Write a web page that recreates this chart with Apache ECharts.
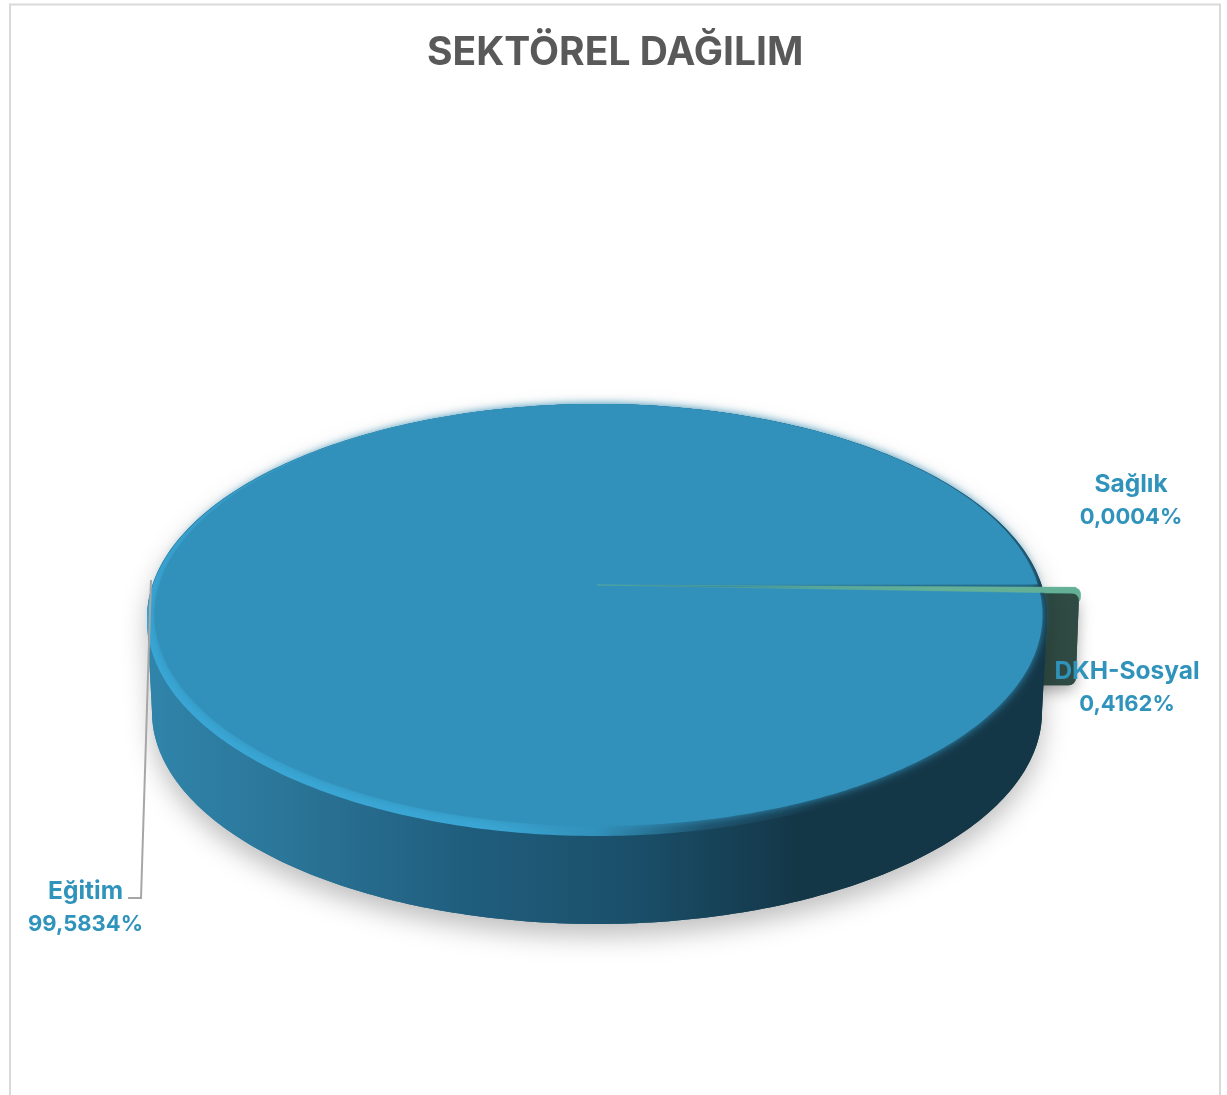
<!DOCTYPE html>
<html>
<head>
<meta charset="utf-8">
<style>html,body{margin:0;padding:0;background:#fff}#c{width:1227px;height:1095px}</style>
<script src="https://cdn.jsdelivr.net/npm/echarts@6/dist/echarts.min.js"></script>
</head>
<body>
<div id="c"></div>
<script>
const titleText = 'SEKTÖREL DAĞILIM';
const categories = ['Eğitim', 'DKH-Sosyal', 'Sağlık'];
const shares = [99.5834, 0.4162, 0.0004];

// layout of the drawn disc
const TOP = {cx: 597, cy: 618, rx: 450, ry: 214};
const RIM = {cx: 597, cy: 620, rx: 450, ry: 216};
const FACE = {cx: 598.5, cy: 615, rx: 444, ry: 211};
const BOTTOM = {cx: 597, cy: 712, rx: 445, ry: 212};
const APEX = [597, 585];
const FIRST_ANGLE = -6.8;
const EXPLODE = 1.085;
const SLICE_REACH = 1.075;
const LABEL_POS = [[85.5, 891.5], [1127, 671.5], [1131, 484.5]];
const LINE_GAP = 33;
const LEADER = [[151, 580], [141, 898], [128, 898]];

const total = shares.reduce((a, b) => a + b, 0);
function at(e, deg) {
  const t = deg * Math.PI / 180;
  return [e.cx + e.rx * Math.cos(t), e.cy + e.ry * Math.sin(t)];
}
function arc(e, a0, a1) {
  const n = Math.max(2, Math.ceil(Math.abs(a1 - a0)));
  const pts = [];
  for (let i = 0; i <= n; i++) pts.push(at(e, a0 + (a1 - a0) * i / n));
  return pts;
}
function sliceRange(idx, api) {
  let start = FIRST_ANGLE;
  for (let i = 0; i < idx; i++) start += shares[i] / total * 360;
  return [start, start + api.value(0) / total * 360];
}
function extend(p, k) {
  return [APEX[0] + (p[0] - APEX[0]) * k, APEX[1] + (p[1] - APEX[1]) * k];
}
const hGrad = stops => ({type: 'linear', x: 0, y: 0, x2: 1, y2: 0,
  colorStops: stops.map(s => ({offset: s[0], color: s[1]}))});

// exploded slice wall, behind the main body
function renderBehind(params, api) {
  if (params.dataIndex !== 1) return {type: 'group', children: []};
  const [a0, a1] = sliceRange(1, api);
  const p0 = extend(at(TOP, a0), EXPLODE);
  const p1 = extend(at(TOP, a1), EXPLODE);
  const left = p1[0] - 60;
  const cap = [[left, p0[1] + 7], [p1[0] - 8, p0[1] + 7], [p1[0] - 8, p0[1] + 10], [left, p0[1] + 10]];
  const tab = [
    [left, p1[1] + 7],
    [p1[0] - 10, p1[1] + 7],
    [p1[0] - 13, p1[1] + 85],
    [left, p1[1] + 85]
  ];
  return {type: 'group', children: [
    {type: 'polygon', shape: {points: tab},
      style: {fill: '#2f4b43', stroke: '#2f4b43', lineWidth: 14, lineJoin: 'round',
        shadowBlur: 16, shadowColor: 'rgba(0,0,0,0.25)', shadowOffsetY: 6}},
    {type: 'polygon', shape: {points: cap},
      style: {fill: '#63b096', stroke: '#63b096', lineWidth: 14, lineJoin: 'round'}},
    {type: 'polygon', shape: {points: tab},
      style: {fill: '#2f4b43', stroke: '#2f4b43', lineWidth: 14, lineJoin: 'round'}}
  ]};
}

function renderBody(params, api) {
  if (params.dataIndex !== 0) return {type: 'group', children: []};
  const [a0, a1] = sliceRange(0, api);
  const wall = arc(BOTTOM, 0, 180).concat(arc(TOP, 180, 360));
  const facePts = [APEX].concat(arc(FACE, a0, a1));
  const wallFill = hGrad([[0, '#3084aa'], [0.15, '#2b7699'], [0.35, '#205e7e'],
    [0.55, '#1a4e68'], [0.72, '#143748'], [1, '#143748']]);
  return {type: 'group', children: [
    {type: 'polygon', shape: {points: wall},
      style: {fill: wallFill, shadowBlur: 26, shadowOffsetY: 12, shadowColor: 'rgba(0,0,0,0.25)'}},
    {type: 'polygon', shape: {points: wall}, style: {fill: wallFill}},
    {type: 'polygon', shape: {points: arc(RIM, 0, 360)},
      style: {fill: hGrad([[0, '#39a6d5'], [0.38, '#3aa6d4'], [0.5, '#3191ba'],
        [0.62, '#1d536e'], [0.75, '#143748'], [1, '#143748']])}},
    {type: 'polygon', shape: {points: facePts},
      style: {fill: '#3191ba', shadowBlur: 8, shadowColor: '#3191ba'}}
  ]};
}

function renderTopSlices(params, api) {
  if (params.dataIndex !== 1) return {type: 'group', children: []};
  const [a0, a1] = sliceRange(1, api);
  const p0 = extend(at(TOP, a0), SLICE_REACH);
  const p1 = extend(at(TOP, a1), SLICE_REACH);
  return {type: 'polygon', shape: {points: [APEX, p0, p1]},
    style: {fill: hGrad([[0, '#2a7ea3'], [0.1, '#1f6f93'], [0.2, '#2b7f9f'], [0.45, '#55a49a'], [0.7, '#63b096'], [1, '#63b096']]),
      stroke: 'rgba(99,176,150,0.6)', lineWidth: 0.8, lineJoin: 'round'}};
}

function renderLabels(params, api) {
  const i = params.dataIndex;
  const pct = api.value(0).toFixed(4).replace('.', ',') + '%';
  const children = [
    {type: 'text', x: LABEL_POS[i][0], y: LABEL_POS[i][1],
      style: {text: categories[i], fill: '#3093bb', align: 'center', verticalAlign: 'middle',
        font: '700 24.5px "Inter", "Noto Sans", sans-serif'}},
    {type: 'text', x: LABEL_POS[i][0], y: LABEL_POS[i][1] + LINE_GAP,
      style: {text: pct, fill: '#3093bb', align: 'center', verticalAlign: 'middle',
        font: '700 22px "Inter", "Noto Sans", sans-serif'}}
  ];
  if (i === 0) {
    children.unshift({type: 'polyline', shape: {points: LEADER},
      style: {stroke: '#a6a6a6', lineWidth: 2, fill: 'none'}});
  }
  return {type: 'group', children};
}

const seriesData = categories.map((name, i) => ({name, value: [shares[i]]}));
const layer = (renderItem, z) => ({type: 'custom', coordinateSystem: 'none', renderItem, z,
  data: seriesData, silent: true, animation: false, clip: false});

const chart = echarts.init(document.getElementById('c'), null, {renderer: 'canvas'});
chart.setOption({
  backgroundColor: '#ffffff',
  animation: false,
  title: {
    text: titleText, left: 422, top: 29,
    textStyle: {color: '#595959', fontFamily: 'Inter', fontWeight: 700, fontSize: 39}
  },
  graphic: [{type: 'polyline', silent: true, z: 0,
    shape: {points: [[10, 1100], [10, 4.5], [1220, 4.5], [1220, 1100]]},
    style: {stroke: '#d9d9d9', lineWidth: 2, fill: 'none'}}],
  series: [layer(renderBehind, 1), layer(renderBody, 2), layer(renderTopSlices, 3), layer(renderLabels, 4)]
});
</script>
</body>
</html>
